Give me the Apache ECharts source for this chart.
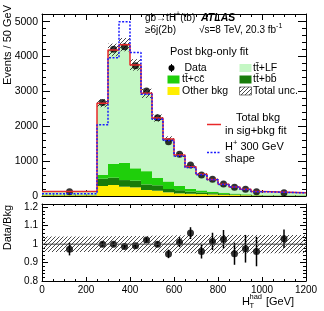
<!DOCTYPE html>
<html><head><meta charset="utf-8">
<script src="https://cdn.jsdelivr.net/npm/echarts@6/dist/echarts.min.js"></script>
<style>html,body{margin:0;padding:0;background:#fff}#c{width:324px;height:311px}</style>
</head><body><div id="c"></div>
<script>
// ---- data ----
const binEdges = [0, 250, 300, 350, 400, 450, 500, 550, 600, 650, 700, 750, 800, 850, 900, 950, 1000, 1200];
const binCenters = [125, 275, 325, 375, 425, 475, 525, 575, 625, 675, 725, 775, 825, 875, 925, 975, 1100];
const dataVals = [123, 2685, 4212, 4280, 3734, 3009, 2245, 1557, 1200, 888, 602, 478, 344, 249, 192, 123, 95];
const otherBkg = [20, 287, 315, 267, 248, 172, 152, 106, 76, 65, 55, 45, 35, 27, 20, 14, 10];
const ttbb = [10, 210, 210, 190, 190, 160, 155, 95, 90, 60, 45, 35, 25, 18, 12, 8, 6];
const ttcc = [15, 105, 395, 495, 355, 380, 210, 215, 125, 80, 60, 45, 35, 25, 18, 12, 9];
const ttLF = [85, 2058, 3270, 3388, 2967, 2233, 1718, 1219, 884, 635, 465, 350, 240, 190, 145, 93, 67];
const totalSigBkg = [130, 2660, 4190, 4340, 3760, 2945, 2235, 1635, 1175, 840, 625, 475, 335, 260, 195, 127, 92];
const hplusShape = [65, 2040, 3965, 4995, 4115, 2920, 2200, 1590, 1150, 820, 610, 465, 330, 255, 190, 124, 90];
const relUnc = [0.042, 0.043, 0.043, 0.044, 0.044, 0.045, 0.046, 0.047, 0.048, 0.049, 0.05, 0.05, 0.05, 0.05, 0.05, 0.05, 0.05];
const ratioVals = [0.973, 1.0, 1.0, 0.987, 0.991, 1.022, 1.0, 0.947, 1.011, 1.06, 0.96, 1.015, 1.027, 0.948, 0.975, 0.96, 1.029];
const ratioErr = [0.034, 0.012, 0.01, 0.01, 0.01, 0.012, 0.014, 0.023, 0.027, 0.032, 0.038, 0.047, 0.05, 0.06, 0.075, 0.08, 0.05];

const FF = '"Liberation Sans", Arial, Helvetica, sans-serif';
const C_LF = '#c4f7c4', C_CC = '#1fcf0b', C_BB = '#187c0a', C_OT = '#ffee00';
const C_RED = '#e8282a', C_BLUE = '#1a1aff';

function makeHatch() {
  const c = document.createElement('canvas'); c.width = 4; c.height = 4;
  const g = c.getContext('2d');
  g.strokeStyle = '#333'; g.lineWidth = 0.9;
  g.beginPath();
  g.moveTo(0, 4); g.lineTo(4, 0);
  g.moveTo(-1, 1); g.lineTo(1, -1);
  g.moveTo(3, 5); g.lineTo(5, 3);
  g.stroke();
  return c;
}
const hatch = { image: makeHatch(), repeat: 'repeat' };

// stacking bases
const base1 = otherBkg;
const base2 = otherBkg.map((v, i) => v + ttbb[i]);
const base3 = base2.map((v, i) => v + ttcc[i]);
const stackTot = base3.map((v, i) => v + ttLF[i]);
const zeros = otherBkg.map(() => 0);

function stackSeries(vals, base, color) {
  return {
    type: 'custom', xAxisIndex: 0, yAxisIndex: 0,
    data: vals.map((v, i) => [binCenters[i], v]),
    renderItem: function (params, api) {
      const i = params.dataIndex;
      const p0 = api.coord([binEdges[i], base[i] + vals[i]]);
      const p1 = api.coord([binEdges[i + 1], base[i]]);
      return { type: 'rect', shape: { x: p0[0], y: p0[1], width: p1[0] - p0[0], height: p1[1] - p0[1] }, style: { fill: color } };
    }
  };
}
function bandSeries(center, unc, xi, yi) {
  return {
    type: 'custom', xAxisIndex: xi, yAxisIndex: yi,
    data: center.map((v, i) => [binCenters[i], v]),
    renderItem: function (params, api) {
      const i = params.dataIndex;
      const p0 = api.coord([binEdges[i], center[i] * (1 + unc[i])]);
      const p1 = api.coord([binEdges[i + 1], center[i] * (1 - unc[i])]);
      return { type: 'rect', shape: { x: p0[0], y: p0[1], width: p1[0] - p0[0], height: p1[1] - p0[1] }, style: { fill: hatch, stroke: null } };
    }
  };
}
function stepData(vals) {
  const d = vals.map((v, i) => [binEdges[i], v]);
  d.push([binEdges[binEdges.length - 1], vals[vals.length - 1]]);
  return d;
}

const fmtInt = v => String(Math.round(v));
const fmtR = v => String(+v.toFixed(2));

function xAx(grid, pos, showLabel, tl, ml) {
  return {
    type: 'value', gridIndex: grid, position: pos, min: 0, max: 1200, interval: 200,
    axisLine: { show: true, onZero: false, lineStyle: { color: '#000', width: 1 } },
    axisTick: { show: true, inside: true, length: tl, lineStyle: { color: '#000' } },
    minorTick: { show: true, splitNumber: 4, length: ml, lineStyle: { color: '#000' } },
    axisLabel: { show: showLabel, color: '#000', fontSize: 10, fontFamily: FF, margin: 4, formatter: fmtInt },
    splitLine: { show: false }, minorSplitLine: { show: false }
  };
}
function yAx(grid, pos, showLabel, min, max, interval, fs, fmt, tl, ml) {
  return {
    type: 'value', gridIndex: grid, position: pos, min: min, max: max, interval: interval,
    axisLine: { show: true, onZero: false, lineStyle: { color: '#000', width: 1 } },
    axisTick: { show: true, inside: true, length: tl, lineStyle: { color: '#000' } },
    minorTick: { show: true, splitNumber: 5, length: ml, lineStyle: { color: '#000' } },
    axisLabel: { show: showLabel, color: '#000', fontSize: fs, fontFamily: FF, margin: 4, formatter: fmt, showMaxLabel: false },
    splitLine: { show: false }, minorSplitLine: { show: false }
  };
}

// text helpers
const mctx = document.createElement('canvas').getContext('2d');
function fnt(size, st) { return (st || '') + ' ' + size + 'px ' + FF; }
function tw(t, f) { mctx.font = f; return mctx.measureText(t).width; }
function txt(x, y, t, size, opts) {
  opts = opts || {};
  const f = fnt(size, opts.st);
  return { type: 'text', x: x, y: y, rotation: opts.rot || 0, z: 100,
    style: { text: t, fill: '#000', font: f, align: opts.align || 'left', verticalAlign: 'middle', textAlign: opts.align || 'left', textVerticalAlign: 'middle' } };
}
function seq(x, y, parts) {
  const out = [];
  parts.forEach(p => {
    const f = fnt(p.s, p.st);
    out.push(txt(x, y + (p.dy || 0), p.t, p.s, { st: p.st }));
    x += tw(p.t, f);
  });
  return out;
}

const graphics = [];
// y titles
graphics.push(txt(8, 5, 'Events / 50 GeV', 11, { rot: Math.PI / 2, align: 'right' }));
graphics.push(txt(8, 205, 'Data/Bkg', 11, { rot: Math.PI / 2, align: 'right' }));
// x title
graphics.push(txt(242, 301.5, 'H', 11));
graphics.push(txt(249.5, 305.5, 'T', 7.5));
graphics.push(txt(249.5, 297, 'had', 7.5));
graphics.push(txt(266, 301.5, '[GeV]', 11));
// top labels
graphics.push(...seq(145, 18, [{ t: 'gb→tH', s: 10 }, { t: '+', s: 7, dy: -4 }, { t: '(tb)', s: 10 }]));
graphics.push(txt(201, 18, 'ATLAS', 10.5, { st: 'italic bold' }));
graphics.push(txt(145, 30, '≥6j(2b)', 10));
graphics.push(...seq(199, 30, [{ t: '√s=8 TeV, 20.3 fb', s: 10 }, { t: '-1', s: 7, dy: -4 }]));
graphics.push(txt(170, 52, 'Post bkg-only fit', 11));
// legend
const rows = [68, 79.5, 91];
graphics.push({ type: 'circle', shape: { cx: 171.5, cy: rows[0], r: 3 }, style: { fill: '#000' }, z: 100 });
graphics.push({ type: 'line', shape: { x1: 171.5, y1: rows[0] - 4, x2: 171.5, y2: rows[0] + 4 }, style: { stroke: '#000', lineWidth: 1 }, z: 100 });
graphics.push(txt(184.5, rows[0], 'Data', 10.5));
function box(x, y, fill, stroke) {
  return { type: 'rect', shape: { x: x, y: y - 4, width: 12, height: 8 }, style: { fill: fill, stroke: stroke || null, lineWidth: 0.8 }, z: 100 };
}
graphics.push(box(239.5, rows[0], C_LF));
graphics.push(txt(253, rows[0], 'tt\u0304+LF', 10.5));
graphics.push(box(167.5, rows[1], C_CC));
graphics.push(txt(182, rows[1], 'tt\u0304+cc\u0304', 10.5));
graphics.push(box(239.5, rows[1], C_BB));
graphics.push(txt(253, rows[1], 'tt\u0304+bb\u0304', 10.5));
graphics.push(box(167.5, rows[2], C_OT));
graphics.push(txt(182, rows[2], 'Other bkg', 10.5));
graphics.push(box(239.5, rows[2], hatch, '#555'));
graphics.push(txt(253, rows[2], 'Total unc.', 10.5));
// signal legend
graphics.push({ type: 'line', shape: { x1: 207, y1: 124.5, x2: 221, y2: 124.5 }, style: { stroke: C_RED, lineWidth: 1.5 }, z: 100 });
graphics.push(txt(236, 117.5, 'Total bkg', 11));
graphics.push(txt(225, 130.5, 'in sig+bkg fit', 11));
graphics.push({ type: 'line', shape: { x1: 207, y1: 152.5, x2: 221, y2: 152.5 }, style: { stroke: C_BLUE, lineWidth: 1.5, lineDash: [2, 1.5] }, z: 100 });
graphics.push(...seq(225, 146.5, [{ t: 'H', s: 11 }, { t: '+', s: 7.5, dy: -4 }, { t: ' 300 GeV', s: 11 }]));
graphics.push(txt(225, 158.5, 'shape', 11));

const option = {
  backgroundColor: '#fff',
  animation: false,
  grid: [
    { left: 42, top: 14, width: 264, height: 182, show: false },
    { left: 42, top: 204, width: 264, height: 77, show: false }
  ],
  xAxis: [
    xAx(0, 'bottom', false, 6, 3),
    xAx(0, 'top', false, 6, 3),
    xAx(1, 'bottom', true, 4, 2),
    xAx(1, 'top', false, 4, 2)
  ],
  yAxis: [
    yAx(0, 'left', true, 0, 5220, 1000, 10.5, fmtInt, 8, 4),
    yAx(0, 'right', false, 0, 5220, 1000, 10.5, fmtInt, 8, 4),
    yAx(1, 'left', true, 0.8, 1.218, 0.1, 10, fmtR, 6, 3),
    yAx(1, 'right', false, 0.8, 1.218, 0.1, 10, fmtR, 6, 3)
  ],
  graphic: graphics,
  series: [
    stackSeries(otherBkg, zeros, C_OT),
    stackSeries(ttbb, base1, C_BB),
    stackSeries(ttcc, base2, C_CC),
    stackSeries(ttLF, base3, C_LF),
    bandSeries(stackTot, relUnc, 0, 0),
    { type: 'line', xAxisIndex: 0, yAxisIndex: 0, step: 'end', data: stepData(totalSigBkg), showSymbol: false, symbol: 'none',
      lineStyle: { color: C_RED, width: 1.5 } },
    { type: 'line', xAxisIndex: 0, yAxisIndex: 0, step: 'end', data: stepData(hplusShape), showSymbol: false, symbol: 'none',
      lineStyle: { color: C_BLUE, width: 1.5, type: [2, 1.5] } },
    { type: 'scatter', xAxisIndex: 0, yAxisIndex: 0, symbol: 'circle', symbolSize: 7, itemStyle: { color: '#000' },
      data: dataVals.map((v, i) => [binCenters[i], v]) },
    // ratio panel
    bandSeries(otherBkg.map(() => 1), relUnc, 2, 2),
    { type: 'line', xAxisIndex: 2, yAxisIndex: 2, data: [[0, 1], [1200, 1]], showSymbol: false, symbol: 'none',
      lineStyle: { color: '#444', width: 1 } },
    { type: 'custom', xAxisIndex: 2, yAxisIndex: 2,
      data: ratioVals.map((v, i) => [binCenters[i], v]),
      renderItem: function (params, api) {
        const i = params.dataIndex;
        const a = api.coord([binCenters[i], ratioVals[i] + ratioErr[i]]);
        const b = api.coord([binCenters[i], ratioVals[i] - ratioErr[i]]);
        return { type: 'line', shape: { x1: a[0], y1: a[1], x2: b[0], y2: b[1] }, style: { stroke: '#000', lineWidth: 1.5 } };
      } },
    { type: 'scatter', xAxisIndex: 2, yAxisIndex: 2, symbol: 'circle', symbolSize: 7, itemStyle: { color: '#000' },
      data: ratioVals.map((v, i) => [binCenters[i], v]) }
  ]
};
const chart = echarts.init(document.getElementById('c'), null, { renderer: 'canvas' });
chart.setOption(option);
</script></body></html>
